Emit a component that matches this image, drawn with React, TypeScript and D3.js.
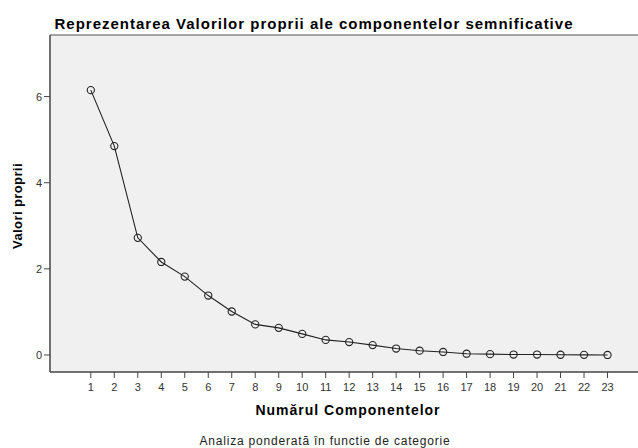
import React from "react";
import * as d3 from "d3";

const components = [1,2,3,4,5,6,7,8,9,10,11,12,13,14,15,16,17,18,19,20,21,22,23];
const eigenvalues = [6.15,4.85,2.72,2.16,1.82,1.38,1.01,0.71,0.63,0.49,0.35,0.30,0.23,0.15,0.10,0.07,0.03,0.02,0.01,0.01,0.005,0.003,0.001];
const yTicks = [0,2,4,6];
const titleText = "Reprezentarea Valorilor proprii ale componentelor semnificative";
const yLabel = "Valori proprii";
const xLabel = "Numărul Componentelor";
const subtitle = "Analiza ponderată în functie de categorie";

const W = 638, H = 448;
const left = 50, right = 640, top = 35, bottom = 372;
const font = "'Liberation Sans', Arial, sans-serif";

export default function App() {
  const x = d3.scaleLinear().domain([-0.738, 24.4]).range([left, right + 0.4]);
  const y = d3.scaleLinear().domain([-0.395, 7.43]).range([bottom, top]);
  const data = components.map((c, i) => ({ c, v: eigenvalues[i] }));
  const line = d3.line<{ c: number; v: number }>().x(d => x(d.c)).y(d => y(d.v));
  return (
    <svg width={W} height={H} style={{ position: "absolute", left: 0, top: 0 }} fontFamily={font}>
      <rect x={0} y={0} width={W} height={H} fill="#fff" />
      <rect x={left} y={top} width={right - left} height={bottom - top} fill="#f0f0f0" />
      <line x1={left} x2={right} y1={top} y2={top} stroke="#888" strokeWidth={1.5} />
      <line x1={left} x2={left} y1={top} y2={bottom} stroke="#444" strokeWidth={1.5} />
      <line x1={left} x2={right} y1={bottom} y2={bottom} stroke="#444" strokeWidth={1.5} />
      {yTicks.map(t => (
        <g key={t}>
          <line x1={left - 6} x2={left} y1={y(t)} y2={y(t)} stroke="#444" />
          <text x={42} y={y(t) + 4} textAnchor="end" fontSize={11} fill="#333">{t}</text>
        </g>
      ))}
      {components.map(c => (
        <g key={c}>
          <line x1={x(c)} x2={x(c)} y1={bottom} y2={bottom + 6} stroke="#444" />
          <text x={x(c)} y={bottom + 19} textAnchor="middle" fontSize={11} fill="#333">{c}</text>
        </g>
      ))}
      <path d={line(data) || ""} fill="none" stroke="#222" strokeWidth={1.1} />
      {data.map(d => (
        <circle key={d.c} cx={x(d.c)} cy={y(d.v)} r={3.6} fill="none" stroke="#222" strokeWidth={1.1} />
      ))}
      <text x={314} y={29} textAnchor="middle" fontSize={15} fontWeight="bold" letterSpacing={1} fill="#000">{titleText}</text>
      <text transform={`translate(21.5,206) rotate(-90)`} textAnchor="middle" fontSize={13} fontWeight="bold" letterSpacing={0.4} fill="#000">{yLabel}</text>
      <text x={348} y={415} textAnchor="middle" fontSize={14} fontWeight="bold" letterSpacing={1} fill="#000">{xLabel}</text>
      <text x={325} y={444.5} textAnchor="middle" fontSize={12} letterSpacing={0.8} fill="#222">{subtitle}</text>
    </svg>
  );
}
